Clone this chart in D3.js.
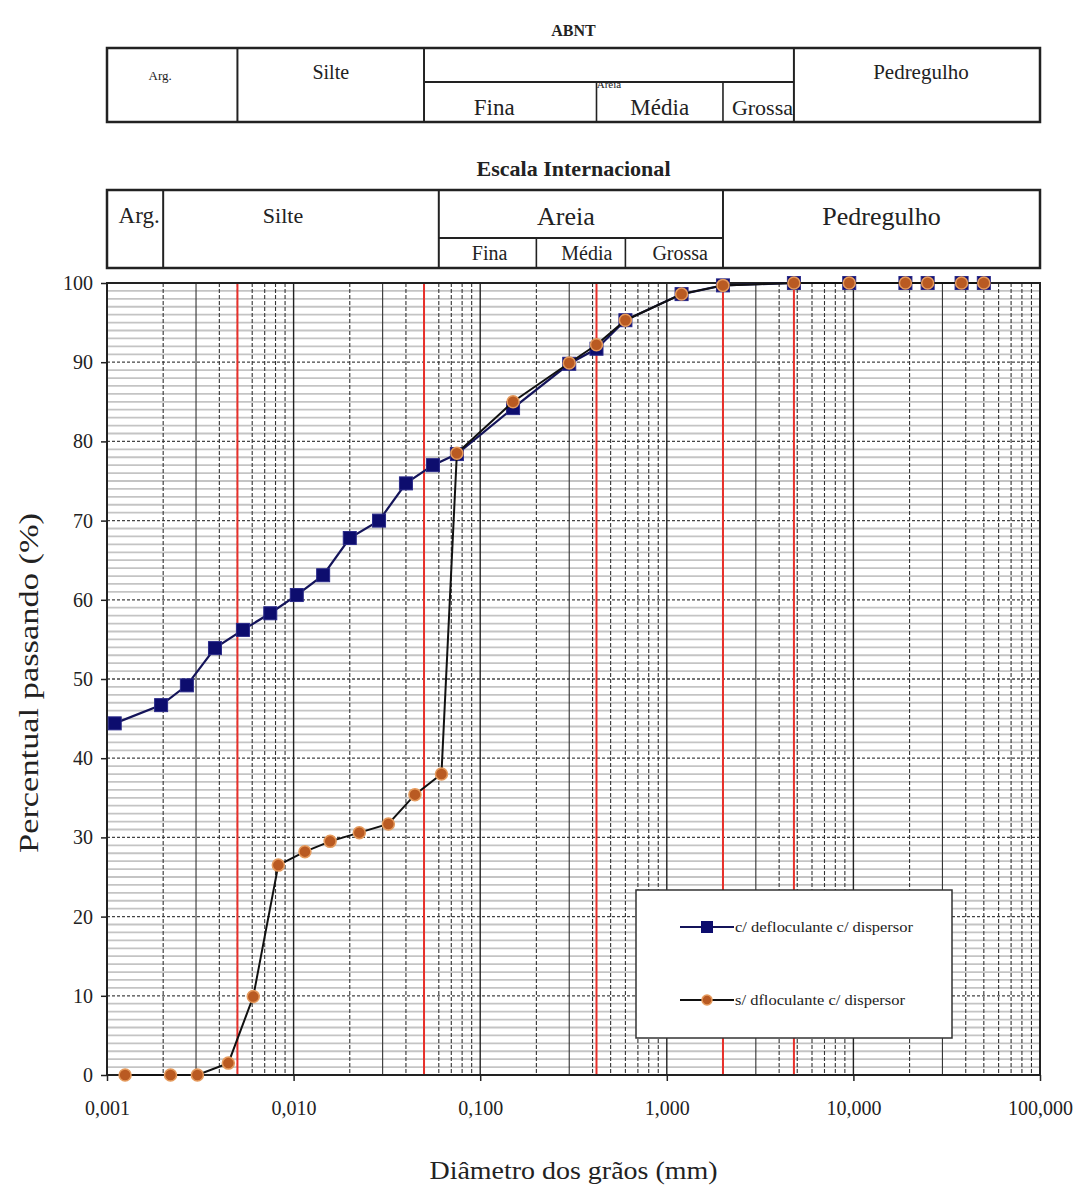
<!DOCTYPE html>
<html lang="pt">
  <head>
    <meta charset="utf-8" />
    <title>Curva granulométrica</title>
    <style>
      body { margin: 0; background: #fff; }
      svg text { font-family: "Liberation Serif", "DejaVu Serif", serif; fill: #222; }
    </style>
  </head>
  <body>
    <svg id="chart" width="1085" height="1187"></svg>
    <script src="https://d3js.org/d3.v7.min.js"></script>
    <script>
      // Peneiramento (mm) - comum às duas séries
      var sieveSizes = [50, 38, 25, 19, 9.5, 4.8, 2.0, 1.2, 0.6, 0.42, 0.3, 0.15, 0.075];
      var sieveWith = [100, 100, 100, 100, 100, 100, 99.7, 98.6, 95.3, 91.7, 89.8, 84.2, 78.4];
      var sieveWithout = [100, 100, 100, 100, 100, 100, 99.7, 98.6, 95.3, 92.2, 89.9, 85.0, 78.5];

      // Sedimentação
      var sedSizesWith = [0.0558, 0.040, 0.0287, 0.020, 0.0144, 0.0104, 0.0075, 0.00535, 0.00379, 0.00268, 0.00195, 0.0011];
      var sedWith = [77.0, 74.7, 70.0, 67.8, 63.1, 60.6, 58.3, 56.2, 53.9, 49.2, 46.7, 44.4];
      var sedSizesWithout = [0.062, 0.0447, 0.0322, 0.0225, 0.0157, 0.0115, 0.00828, 0.00608, 0.00447, 0.00305, 0.00219, 0.00125];
      var sedWithout = [38.0, 35.4, 31.7, 30.6, 29.5, 28.2, 26.5, 9.9, 1.5, 0, 0, 0];

      var seriesNames = ["c/ defloculante c/ dispersor", "s/ dfloculante c/ dispersor"];

      var xTicks = [0.001, 0.01, 0.1, 1, 10, 100];
      var xTickLabels = ["0,001", "0,010", "0,100", "1,000", "10,000", "100,000"];
      var yTicks = [0, 10, 20, 30, 40, 50, 60, 70, 80, 90, 100];

      // limites das escalas
      var abntLimits = [0.005, 0.05, 0.42, 2.0, 4.8];
      var intlLimits = [0.002, 0.06, 0.2, 0.6, 2.0];

      var margin = { top: 283, left: 107, right: 45, bottom: 112 };
      var width = 1085 - margin.left - margin.right,
        height = 1187 - margin.top - margin.bottom;

      var svg = d3.select("#chart");

      var xScale = d3.scaleLog().domain([0.001, 100]).range([margin.left, margin.left + width]);
      var yScale = d3.scaleLinear().domain([0, 100]).range([margin.top + height, margin.top]);
      var x0 = xScale.range()[0], x1 = xScale.range()[1];

      // ----- grid -----
      var grid = svg.append("g");
      var minorY = d3.range(0, 101, 1).filter((v) => v % 10 !== 0);
      grid.selectAll(".hminor").data(minorY).join("line")
        .attr("x1", x0).attr("x2", x1)
        .attr("y1", (d) => yScale(d)).attr("y2", (d) => yScale(d))
        .attr("stroke", "#c4c4c4").attr("stroke-width", 1.8);
      grid.selectAll(".hmajor").data(yTicks.slice(1, -1)).join("line")
        .attr("x1", x0).attr("x2", x1)
        .attr("y1", (d) => yScale(d)).attr("y2", (d) => yScale(d))
        .attr("stroke", "#444").attr("stroke-width", 1.3).attr("stroke-dasharray", "3,2");

      var minorX = [];
      xTicks.slice(0, -1).forEach(function (t) {
        for (var k = 2; k <= 9; k++) minorX.push(t * k);
      });
      grid.selectAll(".vminor").data(minorX).join("line")
        .attr("x1", (d) => xScale(d)).attr("x2", (d) => xScale(d))
        .attr("y1", yScale(100)).attr("y2", yScale(0))
        .attr("stroke", "#333").attr("stroke-width", 1.1)
        .attr("stroke-dasharray", (d, i) => (i % 8 === 1 ? null : "4,2"));
      grid.selectAll(".vmajor").data(xTicks.slice(1, -1)).join("line")
        .attr("x1", (d) => xScale(d)).attr("x2", (d) => xScale(d))
        .attr("y1", yScale(100)).attr("y2", yScale(0))
        .attr("stroke", "#222").attr("stroke-width", 1.4);

      // linhas ABNT
      grid.selectAll(".red").data(abntLimits).join("line")
        .attr("x1", (d) => xScale(d)).attr("x2", (d) => xScale(d))
        .attr("y1", yScale(100)).attr("y2", yScale(0))
        .attr("stroke", "#e8302a").attr("stroke-width", 2);

      // frame
      svg.append("rect")
        .attr("x", x0).attr("y", yScale(100))
        .attr("width", x1 - x0).attr("height", yScale(0) - yScale(100))
        .attr("fill", "none").attr("stroke", "#222").attr("stroke-width", 2);

      // ----- axes -----
      var xAxis = svg.append("g")
        .attr("transform", "translate(0," + yScale(0) + ")")
        .call(d3.axisBottom(xScale).tickValues(xTicks).tickSize(6)
          .tickFormat((d, i) => xTickLabels[i]));
      var yAxis = svg.append("g")
        .attr("transform", "translate(" + x0 + ",0)")
        .call(d3.axisLeft(yScale).tickValues(yTicks).tickSize(6));
      [xAxis, yAxis].forEach(function (a) {
        a.select(".domain").remove();
        a.selectAll("line").attr("stroke", "#222").attr("stroke-width", 1.5);
        a.selectAll("text").style("font-family", "Liberation Serif").style("font-size", "20px").attr("fill", "#222");
      });
      xAxis.selectAll("text").attr("y", 26);
      yAxis.selectAll("text").attr("x", -14);

      svg.append("text")
        .attr("x", (x0 + x1) / 2).attr("y", 1179)
        .attr("text-anchor", "middle").style("font-size", "26px")
        .attr("textLength", 288).attr("lengthAdjust", "spacingAndGlyphs")
        .text("Diâmetro dos grãos (mm)");
      svg.append("text")
        .attr("transform", "translate(38," + (margin.top + height / 2 + 4) + ")rotate(-90)")
        .attr("text-anchor", "middle").style("font-size", "27px")
        .attr("textLength", 340).attr("lengthAdjust", "spacingAndGlyphs")
        .text("Percentual passando (%)");

      // ----- series -----
      var dataWith = sieveSizes.map((d, i) => ({ x: d, y: sieveWith[i] }))
        .concat(sedSizesWith.map((d, i) => ({ x: d, y: sedWith[i] })))
        .sort((a, b) => a.x - b.x);
      var dataWithout = sieveSizes.map((d, i) => ({ x: d, y: sieveWithout[i] }))
        .concat(sedSizesWithout.map((d, i) => ({ x: d, y: sedWithout[i] })))
        .sort((a, b) => a.x - b.x);

      var line = d3.line()
        .x((d) => xScale(d.x)).y((d) => yScale(d.y));

      svg.append("path").datum(dataWith)
        .attr("d", line).attr("fill", "none")
        .attr("stroke", "#14145a").attr("stroke-width", 2.2);
      svg.selectAll(".sq").data(dataWith).join("rect")
        .attr("x", (d) => xScale(d.x) - 6.5).attr("y", (d) => yScale(d.y) - 6.5)
        .attr("width", 13).attr("height", 13)
        .attr("fill", "#0d0d6e").attr("stroke", "#2a2a8a").attr("stroke-width", 1);

      svg.append("path").datum(dataWithout)
        .attr("d", line).attr("fill", "none")
        .attr("stroke", "#111").attr("stroke-width", 2);
      svg.selectAll(".dot").data(dataWithout).join("circle")
        .attr("cx", (d) => xScale(d.x)).attr("cy", (d) => yScale(d.y))
        .attr("r", 6)
        .attr("fill", "#b95a22").attr("stroke", "#e59a5c").attr("stroke-width", 1.5);

      // ----- legend -----
      var legend = svg.append("g").attr("transform", "translate(636,890)");
      legend.append("rect")
        .attr("width", 316).attr("height", 148)
        .attr("fill", "#fff").attr("stroke", "#333").attr("stroke-width", 1.5);
      [37, 110].forEach(function (ly, i) {
        legend.append("line")
          .attr("x1", 44).attr("x2", 98).attr("y1", ly).attr("y2", ly)
          .attr("stroke", i === 0 ? "#14145a" : "#111").attr("stroke-width", 2);
        if (i === 0) {
          legend.append("rect").attr("x", 65).attr("y", ly - 6)
            .attr("width", 12).attr("height", 12).attr("fill", "#0d0d6e");
        } else {
          legend.append("circle").attr("cx", 71).attr("cy", ly).attr("r", 5)
            .attr("fill", "#b95a22").attr("stroke", "#e59a5c").attr("stroke-width", 1.5);
        }
        legend.append("text")
          .attr("x", 99).attr("y", ly + 5)
          .style("font-size", "15px")
          .attr("textLength", i === 0 ? 178 : 170).attr("lengthAdjust", "spacingAndGlyphs")
          .text(seriesNames[i]);
      });

      // ----- tabelas de classificação -----
      function drawTable(top, mid, bottom, limits) {
        var t = svg.append("g");
        t.append("rect")
          .attr("x", x0).attr("y", top)
          .attr("width", x1 - x0).attr("height", bottom - top)
          .attr("fill", "#fff").attr("stroke", "#222").attr("stroke-width", 2.5);
        // divisões principais
        [limits[0], limits[1], limits[4]].forEach(function (v) {
          t.append("line").attr("x1", xScale(v)).attr("x2", xScale(v))
            .attr("y1", top).attr("y2", bottom)
            .attr("stroke", "#222").attr("stroke-width", 2);
        });
        t.append("line").attr("x1", xScale(limits[1])).attr("x2", xScale(limits[4]))
          .attr("y1", mid).attr("y2", mid)
          .attr("stroke", "#222").attr("stroke-width", 2);
        [limits[2], limits[3]].forEach(function (v) {
          t.append("line").attr("x1", xScale(v)).attr("x2", xScale(v))
            .attr("y1", mid).attr("y2", bottom)
            .attr("stroke", "#222").attr("stroke-width", 1.6);
        });
        return t;
      }
      function cx(a, b) {
        return (xScale(a) + xScale(b)) / 2;
      }

      // ABNT
      svg.append("text").attr("x", (x0 + x1) / 2).attr("y", 36)
        .attr("text-anchor", "middle").style("font-size", "16px").style("font-weight", "bold")
        .text("ABNT");
      var abnt = drawTable(48, 82, 122, abntLimits);
      var abntTexts = [
        { t: "Arg.", x: cx(0.001, abntLimits[0]) - 12, y: 80, s: 13 },
        { t: "Silte", x: cx(abntLimits[0], abntLimits[1]), y: 79, s: 20 },
        { t: "Areia", x: cx(abntLimits[1], abntLimits[4]), y: 88, s: 11 },
        { t: "Pedregulho", x: cx(abntLimits[4], 100) + 4, y: 79, s: 21 },
        { t: "Fina", x: cx(abntLimits[1], abntLimits[2]) - 16, y: 115, s: 23 },
        { t: "Média", x: cx(abntLimits[2], abntLimits[3]), y: 115, s: 23 },
        { t: "Grossa", x: cx(abntLimits[3], abntLimits[4]) + 4, y: 115, s: 22 },
      ];
      abnt.selectAll("text.lbl").data(abntTexts).join("text")
        .attr("x", (d) => d.x).attr("y", (d) => d.y)
        .attr("text-anchor", "middle").style("font-size", (d) => d.s + "px")
        .text((d) => d.t);

      // Escala Internacional
      svg.append("text").attr("x", (x0 + x1) / 2).attr("y", 176)
        .attr("text-anchor", "middle").style("font-size", "21px").style("font-weight", "bold")
        .attr("textLength", 194).attr("lengthAdjust", "spacingAndGlyphs")
        .text("Escala Internacional");
      var intl = drawTable(190, 238, 268, intlLimits);
      var intlTexts = [
        { t: "Arg.", x: cx(0.001, intlLimits[0]) + 4, y: 223, s: 23 },
        { t: "Silte", x: cx(intlLimits[0], intlLimits[1]) - 18, y: 223, s: 22 },
        { t: "Areia", x: cx(intlLimits[1], intlLimits[4]) - 15, y: 225, s: 26 },
        { t: "Pedregulho", x: cx(intlLimits[4], 100), y: 225, s: 26 },
        { t: "Fina", x: cx(intlLimits[1], intlLimits[2]) + 2, y: 260, s: 20 },
        { t: "Média", x: cx(intlLimits[2], intlLimits[3]) + 6, y: 260, s: 20 },
        { t: "Grossa", x: cx(intlLimits[3], intlLimits[4]) + 6, y: 260, s: 20 },
      ];
      intl.selectAll("text.lbl").data(intlTexts).join("text")
        .attr("x", (d) => d.x).attr("y", (d) => d.y)
        .attr("text-anchor", "middle").style("font-size", (d) => d.s + "px")
        .text((d) => d.t);
    </script>
  </body>
</html>
